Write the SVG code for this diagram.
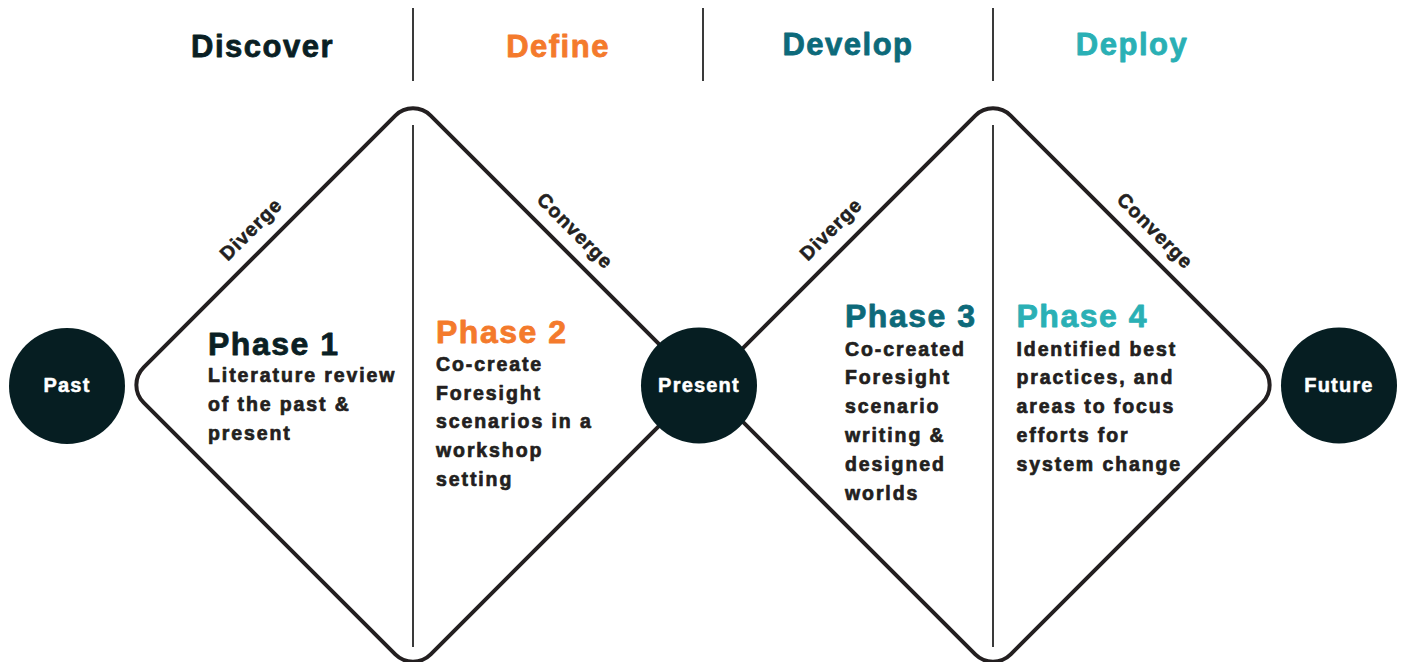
<svg xmlns="http://www.w3.org/2000/svg" xmlns:xlink="http://www.w3.org/1999/xlink" width="1403" height="662" viewBox="0 0 1403 662">
  <style>
    text { font-family: "Liberation Sans", Arial, Helvetica, sans-serif; font-weight: bold; stroke-linejoin: round; }
    .stage { font-size: 31px; letter-spacing: 1.5px; text-anchor: middle; stroke-width: 0.8px; }
    .title { font-size: 32px; letter-spacing: 1.5px; stroke-width: 0.8px; }
    .body { font-size: 19.5px; letter-spacing: 1.9px; fill: #231f20; stroke: #231f20; stroke-width: 0.7px; }
    .edge { font-size: 19.5px; letter-spacing: 1px; fill: #231f20; stroke: #231f20; stroke-width: 0.6px; text-anchor: middle; }
    .node-label { font-size: 20px; letter-spacing: 1.2px; fill: #ffffff; stroke: #ffffff; stroke-width: 0.5px; text-anchor: middle; }
    .rule { stroke: #3a3a3a; stroke-width: 2; fill: none; }
    .diamond { stroke: #231f20; stroke-width: 4; fill: none; }
    .node { fill: #061e22; }
    .c-discover { fill: #0a1f24; stroke: #0a1f24; }
    .c-define { fill: #f47a2c; stroke: #f47a2c; }
    .c-develop { fill: #0d6a7a; stroke: #0d6a7a; }
    .c-deploy { fill: #2ab0b5; stroke: #2ab0b5; }
  </style>
  <defs>
    <!-- rounded-corner diamond, centred on the origin, half-diagonal 287, corner radius 25 -->
    <path id="diamond-shape" class="diamond" d="M-269.32,-17.68 L-17.68,-269.32 A25,25 0 0 1 17.68,-269.32 L269.32,-17.68 A25,25 0 0 1 269.32,17.68 L17.68,269.32 A25,25 0 0 1 -17.68,269.32 L-269.32,17.68 A25,25 0 0 1 -269.32,-17.68 Z"/>
  </defs>

  <rect width="1403" height="662" fill="#ffffff"/>

  <!-- stage headings and separators -->
  <g id="stages">
    <text class="stage c-discover" x="262.5" y="57">Discover</text>
    <text class="stage c-define" x="558" y="57">Define</text>
    <text class="stage c-develop" x="848" y="55">Develop</text>
    <text class="stage c-deploy" x="1132" y="55">Deploy</text>
    <line class="rule" x1="413" y1="8" x2="413" y2="81"/>
    <line class="rule" x1="703" y1="8" x2="703" y2="81"/>
    <line class="rule" x1="993" y1="8" x2="993" y2="81"/>
  </g>

  <!-- the two diamonds with their centre dividers and edge labels -->
  <g id="connectors">
    <use xlink:href="#diamond-shape" href="#diamond-shape" x="413" y="385"/>
    <use xlink:href="#diamond-shape" href="#diamond-shape" x="993" y="385"/>
    <line class="rule" x1="413" y1="125" x2="413" y2="647"/>
    <line class="rule" x1="993" y1="125" x2="993" y2="647"/>
    <text class="edge" transform="translate(255.5,234) rotate(-45)">Diverge</text>
    <text class="edge" transform="translate(570.5,235.5) rotate(45)">Converge</text>
    <text class="edge" transform="translate(835.5,234) rotate(-45)">Diverge</text>
    <text class="edge" transform="translate(1150.5,235.5) rotate(45)">Converge</text>
  </g>

  <g id="phase-1">
    <text class="title c-discover" x="208" y="355">Phase 1</text>
    <text class="body">
      <tspan x="208" y="382.3">Literature review</tspan>
      <tspan x="208" y="411.1">of the past &amp;</tspan>
      <tspan x="208" y="439.9">present</tspan>
    </text>
  </g>

  <g id="phase-2">
    <text class="title c-define" x="436" y="342.7">Phase 2</text>
    <text class="body">
      <tspan x="436" y="370.7">Co-create</tspan>
      <tspan x="436" y="399.5">Foresight</tspan>
      <tspan x="436" y="428.3">scenarios in a</tspan>
      <tspan x="436" y="457.1">workshop</tspan>
      <tspan x="436" y="485.9">setting</tspan>
    </text>
  </g>

  <g id="phase-3">
    <text class="title c-develop" x="845" y="326.7">Phase 3</text>
    <text class="body">
      <tspan x="845" y="355.5">Co-created</tspan>
      <tspan x="845" y="384.3">Foresight</tspan>
      <tspan x="845" y="413.1">scenario</tspan>
      <tspan x="845" y="441.9">writing &amp;</tspan>
      <tspan x="845" y="470.7">designed</tspan>
      <tspan x="845" y="499.5">worlds</tspan>
    </text>
  </g>

  <g id="phase-4">
    <text class="title c-deploy" x="1016.5" y="326.7">Phase 4</text>
    <text class="body">
      <tspan x="1016.5" y="355.5">Identified best</tspan>
      <tspan x="1016.5" y="384.3">practices, and</tspan>
      <tspan x="1016.5" y="413.1">areas to focus</tspan>
      <tspan x="1016.5" y="441.9">efforts for</tspan>
      <tspan x="1016.5" y="470.7">system change</tspan>
    </text>
  </g>

  <g id="past">
    <circle class="node" cx="67" cy="386" r="58"/>
    <text class="node-label" x="67" y="392">Past</text>
  </g>

  <g id="present">
    <circle class="node" cx="699" cy="385.5" r="58"/>
    <text class="node-label" x="699" y="392">Present</text>
  </g>

  <g id="future">
    <circle class="node" cx="1339" cy="385.5" r="58"/>
    <text class="node-label" x="1339" y="392">Future</text>
  </g>
</svg>
